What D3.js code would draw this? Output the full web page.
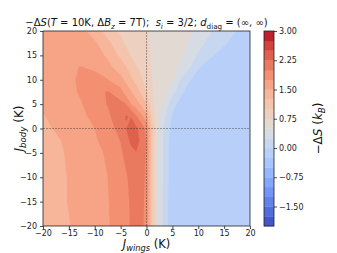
<!DOCTYPE html>
<html>
<head>
<meta charset="utf-8">
<script src="https://cdn.jsdelivr.net/npm/d3@7"></script>
<style>
body { margin: 0; background: #fff; }
svg text { font-family: "DejaVu Sans", sans-serif; white-space: pre; }
</style>
</head>
<body>
<div id="chart"></div>
<script>
// grid positions (K)
const jWings = [-20, -15, -12.5, -10, -7.5, -5, -4, -3, -2, -1, 0, 1, 2, 3, 4, 5, 7.5, 10, 12.5, 15, 17.5, 20];
const jBody = [-20, -15, -10, -5, -2.5, 0, 2.5, 5, 7.5, 10, 12.5, 15, 17.5, 20];

// -dS (k_B), one row per jBody value, bottom to top
const dS = [
  [1.36, 1.49, 1.57, 1.64, 1.73, 1.85, 1.93, 2.02, 2.08, 2.06, 1.92, 1.08, 0.57, 0.29, 0.02, -0.09, -0.12, -0.13, -0.13, -0.14, -0.14, -0.14],
  [1.37, 1.51, 1.58, 1.65, 1.74, 1.86, 1.94, 2.03, 2.09, 2.07, 1.93, 1.09, 0.57, 0.29, 0.02, -0.09, -0.12, -0.13, -0.13, -0.14, -0.14, -0.14],
  [1.38, 1.51, 1.58, 1.66, 1.75, 1.88, 1.97, 2.06, 2.12, 2.10, 1.95, 1.10, 0.58, 0.30, 0.03, -0.08, -0.12, -0.13, -0.13, -0.13, -0.14, -0.14],
  [1.41, 1.52, 1.60, 1.69, 1.78, 1.96, 2.06, 2.18, 2.24, 2.17, 1.97, 1.11, 0.58, 0.30, 0.03, -0.08, -0.12, -0.12, -0.13, -0.13, -0.13, -0.13],
  [1.43, 1.53, 1.62, 1.72, 1.85, 2.01, 2.15, 2.30, 2.33, 2.20, 1.97, 1.12, 0.59, 0.31, 0.04, -0.07, -0.11, -0.12, -0.12, -0.13, -0.13, -0.13],
  [1.46, 1.57, 1.66, 1.75, 1.88, 2.10, 2.24, 2.35, 2.30, 2.15, 1.93, 1.15, 0.60, 0.32, 0.07, -0.05, -0.11, -0.12, -0.12, -0.12, -0.13, -0.13],
  [1.49, 1.62, 1.70, 1.82, 1.96, 2.14, 2.26, 2.24, 2.04, 1.82, 1.58, 1.00, 0.62, 0.40, 0.16, -0.02, -0.10, -0.11, -0.12, -0.12, -0.12, -0.12],
  [1.52, 1.67, 1.74, 1.91, 2.01, 2.07, 2.01, 1.76, 1.60, 1.45, 1.27, 0.85, 0.66, 0.54, 0.34, 0.05, -0.10, -0.11, -0.11, -0.12, -0.12, -0.12],
  [1.55, 1.68, 1.79, 1.92, 2.02, 1.85, 1.64, 1.52, 1.38, 1.20, 1.00, 0.78, 0.67, 0.60, 0.50, 0.34, -0.03, -0.10, -0.11, -0.11, -0.12, -0.12],
  [1.57, 1.70, 1.80, 1.86, 1.76, 1.58, 1.45, 1.30, 1.15, 1.03, 0.90, 0.76, 0.69, 0.63, 0.57, 0.52, 0.07, -0.08, -0.11, -0.12, -0.12, -0.12],
  [1.59, 1.72, 1.76, 1.70, 1.58, 1.38, 1.27, 1.15, 1.03, 0.93, 0.84, 0.74, 0.69, 0.64, 0.60, 0.56, 0.40, 0.01, -0.08, -0.11, -0.12, -0.12],
  [1.61, 1.68, 1.68, 1.62, 1.46, 1.20, 1.10, 0.98, 0.90, 0.84, 0.80, 0.73, 0.69, 0.65, 0.61, 0.58, 0.48, 0.21, 0.02, -0.07, -0.10, -0.12],
  [1.62, 1.64, 1.62, 1.54, 1.31, 1.07, 0.97, 0.91, 0.86, 0.81, 0.77, 0.73, 0.70, 0.67, 0.63, 0.60, 0.53, 0.36, 0.13, 0.02, -0.06, -0.10],
  [1.62, 1.60, 1.56, 1.38, 1.14, 0.95, 0.91, 0.87, 0.83, 0.79, 0.76, 0.72, 0.70, 0.67, 0.64, 0.62, 0.57, 0.46, 0.26, 0.11, -0.01, -0.08]
];

const levels = d3.range(-2, 3.0001, 0.25);
const axisTicks = [-20, -15, -10, -5, 0, 5, 10, 15, 20];
const cbarTicks = [-1.5, -0.75, 0, 0.75, 1.5, 2.25, 3];

// matplotlib coolwarm
const coolwarm = [
  [0.2298, 0.2987, 0.7537], [0.2662, 0.3531, 0.8015], [0.3039, 0.4065, 0.8450], [0.3428, 0.4588, 0.8837],
  [0.3830, 0.5094, 0.9174], [0.4244, 0.5581, 0.9456], [0.4667, 0.6046, 0.9682], [0.5096, 0.6483, 0.9848],
  [0.5530, 0.6889, 0.9954], [0.5963, 0.7261, 0.9998], [0.6392, 0.7596, 0.9982], [0.6813, 0.7890, 0.9904],
  [0.7222, 0.8140, 0.9766], [0.7615, 0.8343, 0.9569], [0.7987, 0.8498, 0.9317], [0.8335, 0.8602, 0.9011],
  [0.8654, 0.8654, 0.8654], [0.8978, 0.8489, 0.8209], [0.9241, 0.8274, 0.7745], [0.9445, 0.8009, 0.7267],
  [0.9589, 0.7698, 0.6780], [0.9673, 0.7341, 0.6288], [0.9700, 0.6943, 0.5794], [0.9668, 0.6504, 0.5303],
  [0.9580, 0.6028, 0.4818], [0.9437, 0.5518, 0.4342], [0.9239, 0.4973, 0.3880], [0.8990, 0.4396, 0.3432],
  [0.8692, 0.3783, 0.3003], [0.8346, 0.3129, 0.2593], [0.7956, 0.2413, 0.2205], [0.7525, 0.1572, 0.1841],
  [0.7057, 0.0156, 0.1502]
].map(c => d3.rgb(c[0] * 255, c[1] * 255, c[2] * 255).toString());

const cmap = d3.scaleLinear()
    .domain(coolwarm.map((c, i) => i / (coolwarm.length - 1)))
    .range(coolwarm);
const lo = levels[0], hi = levels[levels.length - 1];
const bandColor = v => cmap((v + 0.125 - lo) / (hi - lo));

const width = 337, height = 253;
const margin = { top: 31, left: 43 };
const plotW = 207, plotH = 195;

const svg = d3.select("#chart")
    .append("svg")
    .attr("width", width)
    .attr("height", height);

const x = d3.scaleLinear().domain([-20, 20]).range([margin.left, margin.left + plotW]);
const y = d3.scaleLinear().domain([-20, 20]).range([margin.top + plotH, margin.top]);

// grid index -> K (non uniform grid)
const gx = d3.scaleLinear().domain(d3.range(jWings.length)).range(jWings).clamp(true);
const gy = d3.scaleLinear().domain(d3.range(jBody.length)).range(jBody).clamp(true);
const proj = d3.geoTransform({
    point: function(px, py) { this.stream.point(x(gx(px - 0.5)), y(gy(py - 0.5))); }
});
const path = d3.geoPath(proj);

const contours = d3.contours()
    .size([jWings.length, jBody.length])
    .thresholds(levels.slice(0, -1))(dS.flat());

svg.append("g")
    .selectAll("path")
    .data(contours)
    .join("path")
    .attr("d", path)
    .attr("fill", d => bandColor(d.value));

// zero lines
const zero = svg.append("g")
    .attr("stroke", "#333")
    .attr("stroke-opacity", 0.55)
    .attr("stroke-width", 0.8)
    .attr("stroke-dasharray", "2,1");
zero.append("line")
    .attr("x1", x(0)).attr("x2", x(0))
    .attr("y1", y(-20)).attr("y2", y(20));
zero.append("line")
    .attr("x1", x(-20)).attr("x2", x(20))
    .attr("y1", y(0)).attr("y2", y(0));

// frame
svg.append("rect")
    .attr("x", margin.left).attr("y", margin.top)
    .attr("width", plotW).attr("height", plotH)
    .attr("fill", "none")
    .attr("stroke", "#222")
    .attr("stroke-width", 0.8);

// axes
const xAxis = svg.append("g")
    .attr("transform", "translate(0," + (margin.top + plotH) + ")")
    .call(d3.axisBottom(x).tickValues(axisTicks).tickSize(3).tickPadding(1));
const yAxis = svg.append("g")
    .attr("transform", "translate(" + margin.left + ",0)")
    .call(d3.axisLeft(y).tickValues(axisTicks).tickSize(3).tickPadding(3));
[xAxis, yAxis].forEach(g => {
    g.select(".domain").remove();
    g.selectAll("text").style("font-size", "8px").attr("fill", "#222");
    g.selectAll("line").attr("stroke", "#222").attr("stroke-width", 0.8);
});

// colorbar
const cb = { x: 264, w: 10 };
const cy = d3.scaleLinear().domain([lo, hi]).range([margin.top + plotH, margin.top]);
svg.append("g")
    .selectAll("rect")
    .data(levels.slice(0, -1))
    .join("rect")
    .attr("x", cb.x)
    .attr("width", cb.w)
    .attr("y", d => cy(d + 0.25))
    .attr("height", d => cy(d) - cy(d + 0.25) + 0.3)
    .attr("fill", d => bandColor(d));
svg.append("rect")
    .attr("x", cb.x).attr("y", margin.top)
    .attr("width", cb.w).attr("height", plotH)
    .attr("fill", "none")
    .attr("stroke", "#222")
    .attr("stroke-width", 0.8);
const cAxis = svg.append("g")
    .attr("transform", "translate(" + (cb.x + cb.w) + ",0)")
    .call(d3.axisRight(cy).tickValues(cbarTicks).tickFormat(d3.format(".2f")).tickSize(3).tickPadding(2));
cAxis.select(".domain").remove();
cAxis.selectAll("text").style("font-size", "8px").attr("fill", "#222");
cAxis.selectAll("line").attr("stroke", "#222").attr("stroke-width", 0.8);

// text with italics and subscripts
function rich(text, parts, size, subShift) {
    let shift = 0;
    parts.forEach(p => {
        const target = p.sub ? size * subShift : 0;
        const t = text.append("tspan").text(p.t)
            .attr("dy", target - shift)
            .style("font-size", (p.sub ? size * 0.72 : size) + "px");
        if (p.i) t.style("font-style", "italic");
        shift = target;
    });
}

rich(svg.append("text")
        .attr("x", margin.left + plotW / 2)
        .attr("y", 26)
        .attr("text-anchor", "middle")
        .attr("fill", "#111"),
    [{ t: "−Δ" }, { t: "S", i: 1 }, { t: "(" }, { t: "T", i: 1 }, { t: " = 10K, Δ" }, { t: "B", i: 1 },
     { t: "z", i: 1, sub: 1 }, { t: " = 7T);  " }, { t: "s", i: 1 }, { t: "i", i: 1, sub: 1 },
     { t: " = 3/2; " }, { t: "d", i: 1 }, { t: "diag", sub: 1 }, { t: " = (∞, ∞)" }], 10, 0.28);

rich(svg.append("text")
        .attr("x", margin.left + plotW / 2)
        .attr("y", 248.3)
        .attr("text-anchor", "middle")
        .attr("fill", "#111"),
    [{ t: "J", i: 1 }, { t: "wings", i: 1, sub: 1 }, { t: " (K)" }], 11.5, 0.2);

rich(svg.append("text")
        .attr("transform", "translate(23," + (margin.top + plotH / 2) + ") rotate(-90)")
        .attr("text-anchor", "middle")
        .attr("fill", "#111"),
    [{ t: "J", i: 1 }, { t: "body", i: 1, sub: 1 }, { t: " (K)" }], 12, 0.28);

rich(svg.append("text")
        .attr("transform", "translate(322," + (margin.top + plotH / 2) + ") rotate(-90)")
        .attr("text-anchor", "middle")
        .attr("fill", "#111"),
    [{ t: "−Δ" }, { t: "S", i: 1 }, { t: " (" }, { t: "k", i: 1 }, { t: "B", i: 1, sub: 1 }, { t: ")" }], 12, 0.28);
</script>
</body>
</html>
